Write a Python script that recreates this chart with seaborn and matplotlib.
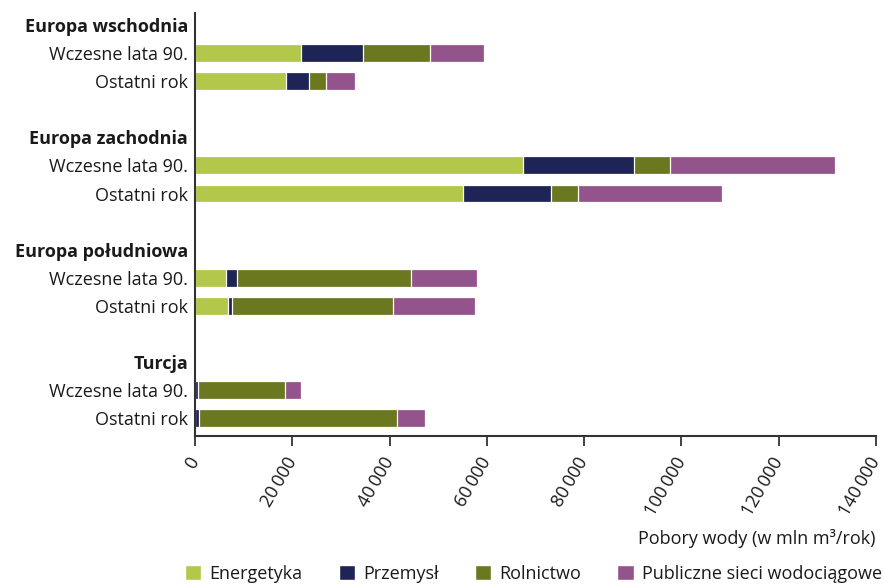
import matplotlib.pyplot as plt
import pandas as pd
import seaborn as sns
from matplotlib.patches import Patch
from matplotlib.ticker import FuncFormatter

# data (mln m3 / year)
regions = ["Europa wschodnia", "Europa zachodnia", "Europa południowa", "Turcja"]
periods = ["Wczesne lata 90.", "Ostatni rok"]
sectors = ["Energetyka", "Przemysł", "Rolnictwo", "Publiczne sieci wodociągowe"]
colors = ["#b3c74b", "#1f2457", "#6b7820", "#93548c"]

energetyka = [21800, 18650, 67400, 55000, 6400, 6850, 0, 0]
przemysl = [12700, 4800, 22750, 18100, 2250, 750, 550, 800]
rolnictwo = [13800, 3500, 7450, 5550, 35650, 33100, 18000, 40700]
publiczne = [11100, 5950, 34050, 29650, 13700, 16850, 3250, 5750]

sns.set_style("white")
plt.rcParams["font.family"] = ["Open Sans", "DejaVu Sans"]
FS = 13

# one row per bar, plus header rows and blank spacer rows
keys, labels, bold = [], [], []
for i, r in enumerate(regions):
    keys.append(r)
    labels.append(r)
    bold.append(True)
    for p in periods:
        keys.append(f"{r}|{p}")
        labels.append(p)
        bold.append(False)
    if i < len(regions) - 1:
        keys.append(f"{r}|blank")
        labels.append("")
        bold.append(False)

df = pd.DataFrame({
    "key": [f"{r}|{p}" for r in regions for p in periods],
    "Energetyka": energetyka,
    "Przemysł": przemysl,
    "Rolnictwo": rolnictwo,
    "Publiczne sieci wodociągowe": publiczne,
})
cum = df[sectors].cumsum(axis=1)
cum["key"] = df["key"]

fig, ax = plt.subplots(figsize=(8.83, 5.84), dpi=100)
fig.subplots_adjust(left=0.221, right=0.992, top=0.978, bottom=0.253)

# stacked bars: draw cumulative totals from longest to shortest
for sector, color in reversed(list(zip(sectors, colors))):
    part = cum[cum[sector] > 0]
    sns.barplot(data=part, x=sector, y="key", order=keys, color=color,
                width=0.64, edgecolor="white", linewidth=0.9, ax=ax,
                orient="h", saturation=1)

ax.set_xlim(0, 140000)
ax.set_ylim(len(keys) - 0.36, -0.43)
ax.set_yticks(range(len(keys)))
ax.set_yticklabels(labels, fontsize=FS)
for t, b in zip(ax.get_yticklabels(), bold):
    if b:
        t.set_fontweight("bold")
ax.tick_params(axis="y", length=0, pad=5, colors="#1a1a1a")

ax.set_xticks(range(0, 140001, 20000))
ax.xaxis.set_major_formatter(FuncFormatter(lambda v, _: f"{int(v):,}".replace(",", "\u2009")))
ax.tick_params(axis="x", direction="out", length=7, width=1.3, color="#333333",
               labelcolor="#1a1a1a", labelsize=FS, pad=9, bottom=True)
for t in ax.get_xticklabels():
    t.set_rotation(60)
    t.set_ha("right")
    t.set_va("center")
    t.set_rotation_mode("anchor")

for s in ["top", "right"]:
    ax.spines[s].set_visible(False)
for s in ["left", "bottom"]:
    ax.spines[s].set_color("#333333")
    ax.spines[s].set_linewidth(1.5)

ax.set_ylabel("")
ax.set_xlabel("Pobory wody (w mln m³/rok)", fontsize=FS, color="#1a1a1a")
ax.xaxis.set_label_coords(1.0, -0.218)
ax.xaxis.label.set_ha("right")

handles = [Patch(facecolor=c, label=s) for s, c in zip(sectors, colors)]
leg = ax.legend(handles=handles, loc="center", bbox_to_anchor=(0.497, -0.325),
                ncol=4, frameon=False, fontsize=FS, handlelength=0.9,
                handleheight=0.9, handletextpad=0.45, columnspacing=2.0,
                borderaxespad=0, borderpad=0)
for t in leg.get_texts():
    t.set_color("#1a1a1a")

plt.savefig("out.png", dpi=100)
